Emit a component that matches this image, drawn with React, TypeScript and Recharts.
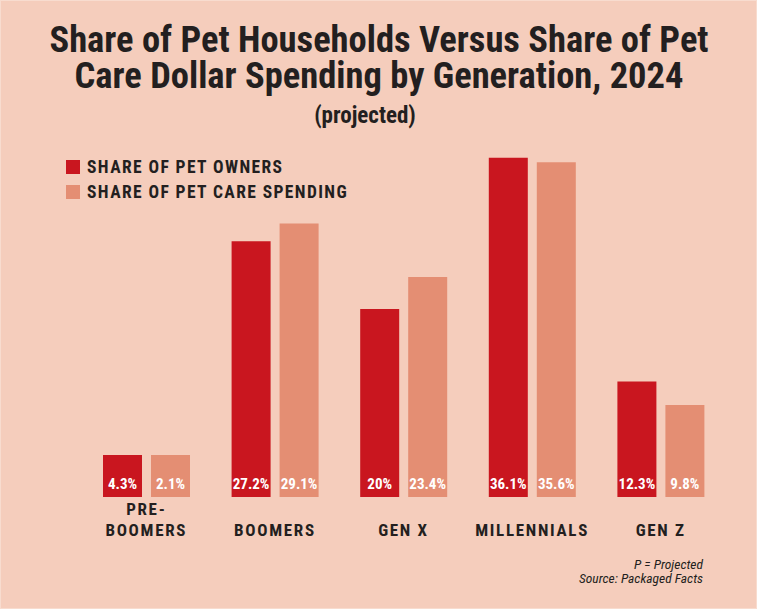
import React from 'react';
import { BarChart, Bar, XAxis, YAxis, Legend, LabelList } from 'recharts';

const generations = ['PRE-\nBOOMERS', 'BOOMERS', 'GEN X', 'MILLENNIALS', 'GEN Z'];
const ownersShare = [4.3, 27.2, 20, 36.1, 12.3];
const spendingShare = [2.1, 29.1, 23.4, 35.6, 9.8];
const ownersLabels = ['4.3%', '27.2%', '20%', '36.1%', '12.3%'];
const spendingLabels = ['2.1%', '29.1%', '23.4%', '35.6%', '9.8%'];

const RED = '#c9161f';
const SALMON = '#e48e73';
const BG = '#f5cdbc';
const INK = '#231f20';
const FONT = '"Liberation Sans Narrow", "Roboto Condensed", "DejaVu Sans Condensed", "Arial Narrow", sans-serif';

const data = generations.map((g, i) => ({
  name: g,
  owners: ownersShare[i],
  spending: spendingShare[i],
  ownersLabel: ownersLabels[i],
  spendingLabel: spendingLabels[i],
}));

const GenTick = (props: any) => {
  const { x, y, payload } = props;
  const lines = String(payload.value).split('\n');
  return (
    <g>
      {lines.map((line, i) => (
        <text
          key={i}
          x={x}
          y={y + 31 - (lines.length - 1 - i) * 21}
          textAnchor="middle"
          fontFamily={FONT}
          fontWeight="bold"
          fontSize={17}
          letterSpacing={1.7}
          fill={INK}
        >
          {line}
        </text>
      ))}
    </g>
  );
};

const inBarLabel = (props: any) => {
  const { x, y, width, height, value } = props;
  return (
    <text
      x={x + width / 2}
      y={y + height - 8}
      textAnchor="middle"
      fontFamily={FONT}
      fontWeight="bold"
      fontSize={15}
      fill="#ffffff"
    >
      {value}
    </text>
  );
};

const LegendBox = () => (
  <div style={{ fontFamily: FONT, fontWeight: 'bold', fontSize: 17.5, color: INK, letterSpacing: 1.4, textAlign: 'left' }}>
    {[
      { c: RED, t: 'SHARE OF PET OWNERS' },
      { c: SALMON, t: 'SHARE OF PET CARE SPENDING' },
    ].map((it) => (
      <div key={it.t} style={{ display: 'flex', alignItems: 'center', height: 25 }}>
        <span style={{ width: 14, height: 14, background: it.c, marginRight: 7, display: 'inline-block' }} />
        <span>{it.t}</span>
      </div>
    ))}
  </div>
);

export default function App() {
  return (
    <div style={{ position: 'absolute', top: 0, left: 0, width: 757, height: 609, background: BG, boxShadow: 'inset 0 0 0 1px #f8dccf' }}>
      <BarChart
        width={757}
        height={609}
        data={data}
        margin={{ top: 121, right: 32, left: 82, bottom: 0 }}
        barSize={39}
        barGap={9}
        style={{ position: 'absolute', top: 0, left: 0 }}
      >
        <XAxis dataKey="name" axisLine={false} tickLine={false} height={112} tick={<GenTick />} interval={0} />
        <YAxis hide domain={[0, 40]} width={0} />
        <Legend
          content={<LegendBox />}
          layout="horizontal"
          verticalAlign="middle"
          align="center"
          wrapperStyle={{ top: 154, left: 66, width: 340 }}
        />
        <Bar dataKey="owners" fill={RED} isAnimationActive={false} minPointSize={42}>
          <LabelList dataKey="ownersLabel" content={inBarLabel} />
        </Bar>
        <Bar dataKey="spending" fill={SALMON} isAnimationActive={false} minPointSize={42}>
          <LabelList dataKey="spendingLabel" content={inBarLabel} />
        </Bar>
      </BarChart>
      <svg width={757} height={609} style={{ position: 'absolute', top: 0, left: 0, pointerEvents: 'none' }}>
        <g fontFamily={FONT} fontWeight="bold" fill={INK} textAnchor="middle">
          <text x={379} y={52} fontSize={36.5}>Share of Pet Households Versus Share of Pet</text>
          <text x={379} y={88} fontSize={36.5}>Care Dollar Spending by Generation, 2024</text>
          <text x={365} y={123} fontSize={23}>(projected)</text>
        </g>
        <g fontFamily={FONT} fontStyle="italic" fill={INK} textAnchor="end" fontSize={13.5}>
          <text x={703} y={569}>P = Projected</text>
          <text x={703} y={583}>Source: Packaged Facts</text>
        </g>
      </svg>
    </div>
  );
}
